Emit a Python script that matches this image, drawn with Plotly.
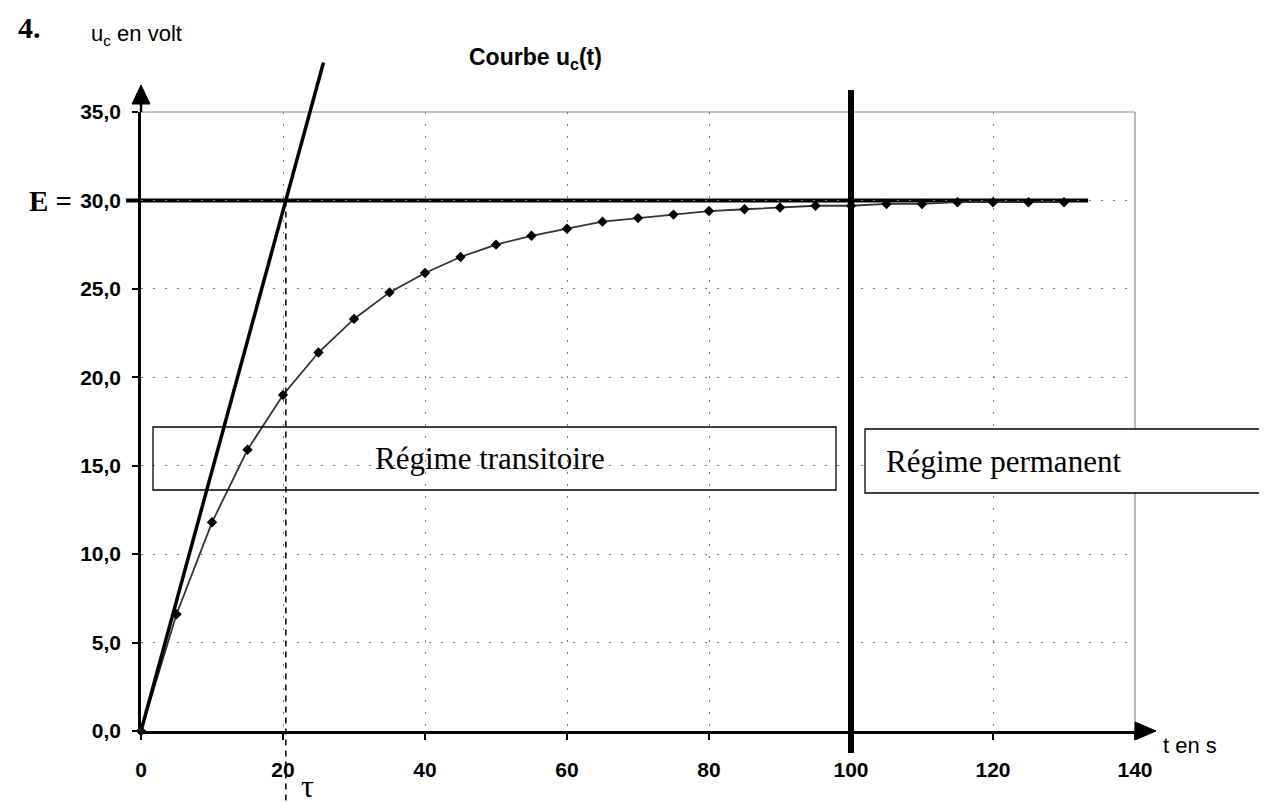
import plotly.graph_objects as go

# ---- data ----
t_s = [0, 5, 10, 15, 20, 25, 30, 35, 40, 45, 50, 55, 60, 65, 70, 75, 80, 85, 90, 95,
       100, 105, 110, 115, 120, 125, 130]
uc_v = [0.0, 6.6, 11.8, 15.9, 19.0, 21.4, 23.3, 24.8, 25.9, 26.8, 27.5, 28.0, 28.4, 28.8,
        29.0, 29.2, 29.4, 29.5, 29.6, 29.7, 29.7, 29.8, 29.8, 29.9, 29.9, 29.9, 29.9]
x_ticks = [0, 20, 40, 60, 80, 100, 120, 140]
x_ticktext = ["0", "20", "40", "60", "80", "100", "120", "140"]
y_ticks = [0, 5, 10, 15, 20, 25, 30, 35]
y_ticktext = ["0,0", "5,0", "10,0", "15,0", "20,0", "25,0", "30,0", "35,0"]
E = 30.0          # final voltage
TAU = 20.4        # time constant read at tangent / E intersection
TANGENT_END = (25.7, 37.8)
E_LINE_X = (-2.1, 133.4)
T_PERM = 100

X_MAX, Y_MAX = 140, 35
W, H = 1267, 802
ML, MR, MT, MB = 133, 140, 104, 79
PW, PH = W - ML - MR, H - MT - MB


def px(p):  # page pixel -> paper x
    return (p - ML) / PW


def py(p):  # page pixel -> paper y
    return (H - MB - p) / PH


def dx(v):  # data x -> paper
    return v / X_MAX


def dy(v):
    return v / Y_MAX


SANS = "Liberation Sans, Arial, sans-serif"
SERIF = "Liberation Serif, Times New Roman, serif"

fig = go.Figure()
fig.add_trace(go.Scatter(
    x=t_s, y=uc_v, mode="lines+markers",
    line=dict(color="#333333", width=1.8),
    marker=dict(symbol="diamond", size=8, color="black"),
    cliponaxis=False, showlegend=False, hoverinfo="skip"))

grid_dash = "2px,10px"
fig.update_xaxes(
    range=[0, X_MAX], tickvals=x_ticks, ticktext=x_ticktext,
    ticks="outside", ticklen=6, tickwidth=2, tickcolor="black",
    showline=True, linecolor="black", linewidth=2.5,
    showgrid=True, gridcolor="#7a7a7a", gridwidth=1, griddash=grid_dash,
    zeroline=False, ticklabelstandoff=12,
    tickfont=dict(family=SANS, size=21, color="black", weight="bold"))
fig.update_yaxes(
    range=[0, Y_MAX], tickvals=y_ticks, ticktext=y_ticktext,
    ticks="outside", ticklen=6, tickwidth=2, tickcolor="black",
    showline=True, linecolor="black", linewidth=2.5,
    showgrid=True, gridcolor="#7a7a7a", gridwidth=1, griddash=grid_dash,
    zeroline=False, ticklabelstandoff=7,
    tickfont=dict(family=SANS, size=21, color="black", weight="bold"))

shapes = [
    # frame top/right
    dict(type="line", xref="paper", yref="paper", x0=0, x1=1, y0=1, y1=1,
         line=dict(color="#8a8a8a", width=1.2)),
    dict(type="line", xref="paper", yref="paper", x0=1, x1=1, y0=0, y1=1,
         line=dict(color="#8a8a8a", width=1.2)),
    # y-axis extension + arrow
    dict(type="line", xref="paper", yref="paper", x0=0, x1=0, y0=1, y1=py(92),
         line=dict(color="black", width=2.5)),
    dict(type="path", xref="paper", yref="paper", xsizemode="pixel", ysizemode="pixel",
         xanchor=0, yanchor=1, path="M -9,8 L 0,27 L 9,8 Z",
         fillcolor="black", line=dict(color="black", width=1)),
    # x-axis arrow
    dict(type="path", xref="paper", yref="paper", xsizemode="pixel", ysizemode="pixel",
         xanchor=1, yanchor=0, path="M 0,-9 L 21,0 L 0,9 Z",
         fillcolor="black", line=dict(color="black", width=1)),
    # E line
    dict(type="line", xref="paper", yref="paper", layer="between",
         x0=dx(E_LINE_X[0]), x1=dx(E_LINE_X[1]), y0=dy(E), y1=dy(E),
         line=dict(color="black", width=4)),
    # tangent at origin
    dict(type="line", xref="paper", yref="paper",
         x0=0, y0=0, x1=dx(TANGENT_END[0]), y1=dy(TANGENT_END[1]),
         line=dict(color="black", width=3.5)),
    # tau dashed line
    dict(type="line", xref="paper", yref="paper",
         x0=dx(TAU), x1=dx(TAU), y0=dy(E), y1=py(802),
         line=dict(color="black", width=1.5, dash="6px,5px")),
    # boundary transient / steady state
    dict(type="line", xref="paper", yref="paper",
         x0=dx(T_PERM), x1=dx(T_PERM), y0=py(745), y1=py(82),
         line=dict(color="black", width=6)),
    # boxes
    dict(type="rect", xref="paper", yref="paper",
         x0=px(145), x1=px(828), y0=py(482), y1=py(419),
         line=dict(color="black", width=1.3), fillcolor="rgba(0,0,0,0)"),
    dict(type="rect", xref="paper", yref="paper",
         x0=px(857), x1=px(1265), y0=py(485), y1=py(421),
         line=dict(color="black", width=1.3), fillcolor="white"),
]

annotations = [
    dict(text="<b>4.</b>", xref="paper", yref="paper", x=px(8), y=py(20),
         xanchor="left", yanchor="middle", showarrow=False,
         font=dict(family=SERIF, size=30, color="black")),
    dict(text="u<sub>c</sub> en volt", xref="paper", yref="paper", x=px(81), y=py(27),
         xanchor="left", yanchor="middle", showarrow=False,
         font=dict(family=SANS, size=22, color="black")),
    dict(text="<b>Courbe u<sub>c</sub>(t)</b>", xref="paper", yref="paper", x=px(527), y=py(51),
         xanchor="center", yanchor="middle", showarrow=False,
         font=dict(family=SANS, size=23, color="black")),
    dict(text="<b>E =</b>", xref="paper", yref="paper", x=px(19), y=py(193),
         xanchor="left", yanchor="middle", showarrow=False,
         font=dict(family=SERIF, size=29, color="black")),
    dict(text="τ", xref="paper", yref="paper", x=px(299), y=py(798),
         xanchor="center", yanchor="bottom", showarrow=False,
         font=dict(family=SERIF, size=32, color="black")),
    dict(text="t en s", xref="paper", yref="paper", x=px(1153), y=py(737),
         xanchor="left", yanchor="middle", showarrow=False,
         font=dict(family=SANS, size=22, color="black")),
    dict(text="Régime transitoire", xref="paper", yref="paper", x=px(482), y=py(450),
         xanchor="center", yanchor="middle", showarrow=False,
         font=dict(family=SERIF, size=31, color="black")),
    dict(text="Régime permanent", xref="paper", yref="paper", x=px(876), y=py(453),
         xanchor="left", yanchor="middle", showarrow=False,
         font=dict(family=SERIF, size=31, color="black")),
]

fig.update_layout(
    width=W, height=H, autosize=False,
    margin=dict(l=ML, r=MR, t=MT, b=MB),
    paper_bgcolor="white", plot_bgcolor="white",
    shapes=shapes, annotations=annotations, showlegend=False)

fig.write_html("out.html")
